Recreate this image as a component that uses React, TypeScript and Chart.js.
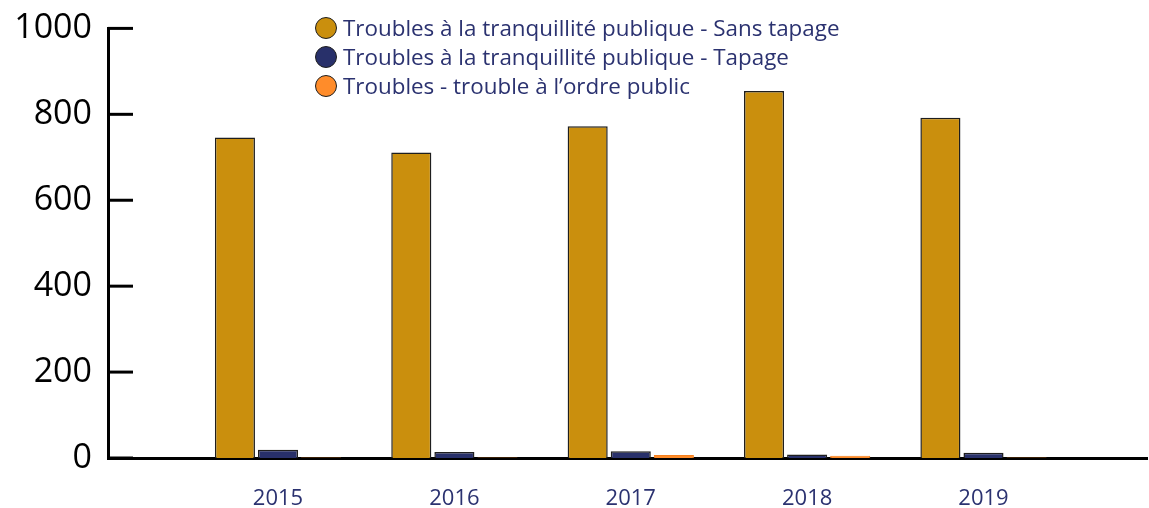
import React, { useEffect, useRef } from "react";
import { Chart, registerables } from "chart.js";

Chart.register(...registerables);

const categories = ["2015", "2016", "2017", "2018", "2019"];
const sansTapage = [746, 711, 772, 854, 792];
const tapage = [19, 14, 16, 8, 12];
const ordrePublic = [1, 1, 7, 5, 1];
const yTicks = [0, 200, 400, 600, 800, 1000];

const seriesNames = [
  "Troubles à la tranquillité publique - Sans tapage",
  "Troubles à la tranquillité publique - Tapage",
  "Troubles - trouble à l’ordre public",
];
const seriesColors = ["#CA8F0D", "#28306A", "#FF8C2A"];
const seriesBorders = ["#1e1e1e", "#1e1e1e", "#F5801E"];
const seriesValues = [sansTapage, tapage, ordrePublic];

const tickMarks = {
  id: "tickMarks",
  afterDraw(chart: any) {
    const y = chart.scales.y;
    const ctx = chart.ctx;
    const left = chart.chartArea.left;
    ctx.save();
    ctx.strokeStyle = "#000";
    ctx.lineWidth = 3;
    y.ticks.forEach((t: any) => {
      const py = y.getPixelForValue(t.value);
      ctx.beginPath();
      ctx.moveTo(left, py);
      ctx.lineTo(left + 25, py);
      ctx.stroke();
    });
    ctx.restore();
  },
};

export default function App() {
  const ref = useRef<HTMLCanvasElement | null>(null);
  useEffect(() => {
    document.body.style.margin = "0";
    const chart = new Chart(ref.current as HTMLCanvasElement, {
      type: "bar",
      data: {
        datasets: seriesValues.map((vals, si) => ({
          label: seriesNames[si],
          data: vals.map((v, i) => ({ x: i, y: v })),
          backgroundColor: seriesColors[si],
          borderColor: seriesBorders[si],
          borderWidth: si === 2 ? 1 : 1.5,
          categoryPercentage: 0.733,
          barPercentage: 0.93,
        })),
      },
      options: {
        animation: false,
        responsive: false,
        layout: { padding: { top: 20, right: 2, left: 0, bottom: 0 } },
        plugins: { legend: { display: false }, tooltip: { enabled: false } },
        scales: {
          x: {
            type: "linear",
            offset: false,
            min: -0.964,
            max: 4.927,
            grid: { display: false },
            border: { display: true, color: "#000", width: 3 },
            afterBuildTicks: (scale: any) => {
              scale.ticks = categories.map((_, i) => ({ value: i }));
            },
            afterFit: (scale: any) => {
              scale.height = 50;
            },
            ticks: {
              autoSkip: false,
              maxRotation: 0,
              padding: 20,
              color: "#2B3270",
              font: { family: "'Open Sans'", size: 22 },
              callback: (v: any) => categories[v as number] ?? "",
            },
          },
          y: {
            min: 0,
            max: 1000,
            grid: { display: false },
            border: { display: true, color: "#000", width: 3 },
            afterBuildTicks: (scale: any) => {
              scale.ticks = yTicks.map((v) => ({ value: v }));
            },
            afterFit: (scale: any) => {
              scale.width = 108;
            },
            ticks: {
              padding: 8,
              color: "#000",
              font: { family: "'Open Sans'", size: 34 },
              callback: (v: any) => String(v),
            },
          },
        },
      },
      plugins: [tickMarks],
    });
    return () => chart.destroy();
  }, []);

  return (
    <div style={{ position: "relative", width: 1149, height: 508 }}>
      <canvas ref={ref} width={1149} height={508} style={{ display: "block" }} />
      <div
        style={{
          position: "absolute",
          left: 315,
          top: 13,
          fontFamily: "'Open Sans'",
          fontSize: 22.4,
          color: "#2B3270",
          lineHeight: "29px",
        }}
      >
        {seriesNames.map((n, i) => (
          <div key={n} style={{ display: "flex", alignItems: "center", whiteSpace: "nowrap" }}>
            <span
              style={{
                display: "inline-block",
                width: 22,
                height: 22,
                borderRadius: "50%",
                background: seriesColors[i],
                border: "1.5px solid #1e1e1e",
                marginRight: 6,
                boxSizing: "border-box",
              }}
            />
            <span>{n}</span>
          </div>
        ))}
      </div>
    </div>
  );
}
